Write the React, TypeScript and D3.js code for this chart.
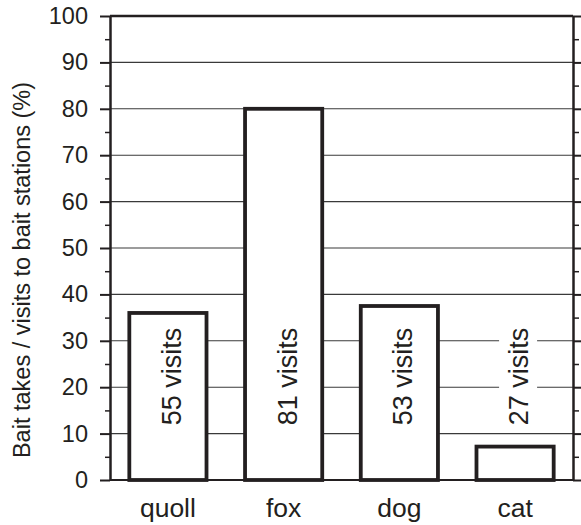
import React, { useEffect, useRef } from "react";
import * as d3 from "d3";

const categories = ["quoll", "fox", "dog", "cat"];
const values = [36, 80, 37.5, 7.2];
const visitLabels = ["55 visits", "81 visits", "53 visits", "27 visits"];
const yTicks = [0, 10, 20, 30, 40, 50, 60, 70, 80, 90, 100];
const yMinorTicks = [5, 15, 25, 35, 45, 55, 65, 75, 85, 95];
const yTitle = "Bait takes / visits to bait stations (%)";

const W = 581;
const H = 525;
const FONT = "'Liberation Sans', Arial, Helvetica, sans-serif";
const INK = "#231f20";

export default function App() {
  const ref = useRef<SVGSVGElement>(null);

  useEffect(() => {
    const svg = d3.select(ref.current);
    svg.selectAll("*").remove();
    const left = 110, right = 573, top = 16, bottom = 480;

    const x = d3.scaleBand<string>().domain(categories).range([left, right]).paddingInner(0.333).paddingOuter(0.167);
    const y = d3.scaleLinear().domain([0, 100]).range([bottom, top]);

    svg.append("rect").attr("width", W).attr("height", H).attr("fill", "white");

    // gridlines
    svg.append("g")
      .selectAll("line")
      .data(yTicks.filter((t) => t > 0 && t < 100))
      .join("line")
      .attr("x1", left).attr("x2", right)
      .attr("y1", (d) => y(d)).attr("y2", (d) => y(d))
      .attr("stroke", "#3a3a3a").attr("stroke-width", 1.1);

    // bars
    svg.append("g")
      .selectAll("rect")
      .data(categories)
      .join("rect")
      .attr("x", (d) => x(d)!)
      .attr("width", x.bandwidth())
      .attr("y", (d, i) => y(values[i]))
      .attr("height", (d, i) => y(0) - y(values[i]))
      .attr("fill", "white")
      .attr("stroke", INK)
      .attr("stroke-width", 3.8);

    // visit labels
    const lg = svg.append("g");
    categories.forEach((c, i) => {
      const cx = x(c)! + x.bandwidth() / 2;
      const g = lg.append("g").attr("transform", `translate(${cx + 13},${y(22.3)}) rotate(-90)`);
      const bg = g.append("rect");
      const t = g.append("text")
        .attr("text-anchor", "middle")
        .attr("font-size", 27)
        .attr("font-family", FONT)
        .attr("fill", INK)
        .text(visitLabels[i]);
      const bb = (t.node() as SVGTextElement).getBBox();
      bg.attr("x", bb.x - 6).attr("y", bb.y - 5).attr("width", bb.width + 12).attr("height", bb.height + 8).attr("fill", "white");
    });

    // left axis
    const la = svg.append("g").attr("transform", `translate(${left},0)`)
      .call(d3.axisLeft(y).tickValues(yTicks).tickSize(10).tickSizeOuter(0).tickPadding(12).tickFormat((d) => String(d)));
    la.select(".domain").attr("stroke", INK).attr("stroke-width", 2.5);
    la.selectAll(".tick line").attr("stroke", INK).attr("stroke-width", 2);
    la.selectAll(".tick text").attr("font-size", 23.5).attr("font-family", FONT).attr("fill", INK);
    const lm = svg.append("g").attr("transform", `translate(${left},0)`)
      .call(d3.axisLeft(y).tickValues(yMinorTicks).tickSize(5).tickSizeOuter(0).tickFormat(() => ""));
    lm.select(".domain").remove();
    lm.selectAll(".tick line").attr("stroke", INK).attr("stroke-width", 1.5);

    // right axis
    const ra = svg.append("g").attr("transform", `translate(${right},0)`)
      .call(d3.axisRight(y).tickValues(yTicks).tickSize(10).tickSizeOuter(0).tickFormat(() => ""));
    ra.select(".domain").attr("stroke", INK).attr("stroke-width", 2.5);
    ra.selectAll(".tick line").attr("stroke", INK).attr("stroke-width", 2);
    const rm = svg.append("g").attr("transform", `translate(${right},0)`)
      .call(d3.axisRight(y).tickValues(yMinorTicks).tickSize(6).tickSizeOuter(0).tickFormat(() => ""));
    rm.select(".domain").remove();
    rm.selectAll(".tick line").attr("stroke", INK).attr("stroke-width", 1.5);

    // top & bottom frame
    svg.append("line").attr("x1", left).attr("x2", right).attr("y1", y(100)).attr("y2", y(100))
      .attr("stroke", INK).attr("stroke-width", 2.5);
    svg.append("line").attr("x1", left).attr("x2", right).attr("y1", y(0)).attr("y2", y(0))
      .attr("stroke", INK).attr("stroke-width", 2.2);

    // category labels
    svg.append("g")
      .selectAll("text")
      .data(categories)
      .join("text")
      .attr("x", (d) => x(d)! + x.bandwidth() / 2)
      .attr("y", 517)
      .attr("text-anchor", "middle")
      .attr("font-size", 26.5)
      .attr("font-family", FONT)
      .attr("fill", INK)
      .text((d) => d);

    // y title
    svg.append("text")
      .attr("transform", `translate(30,270) rotate(-90)`)
      .attr("text-anchor", "middle")
      .attr("font-size", 23.5)
      .attr("font-family", FONT)
      .attr("fill", INK)
      .text(yTitle);
  }, []);

  return (
    <svg
      ref={ref}
      width={W}
      height={H}
      style={{ position: "absolute", left: 0, top: 0, display: "block" }}
    />
  );
}
